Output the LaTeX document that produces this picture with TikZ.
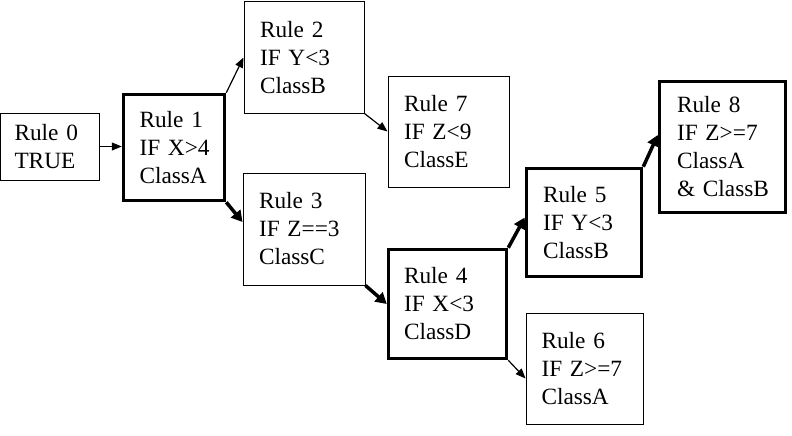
\documentclass[tikz,border=0pt]{standalone}
\usepackage{fontspec}
\setmainfont{Liberation Serif}
\usetikzlibrary{arrows.meta,positioning}
\tikzset{
  rbox/.style={draw, line width=1pt, rectangle, align=left, inner ysep=0pt,
    font=\fontsize{23.3}{28}\selectfont, anchor=center},
  rboxthick/.style={rbox, line width=3.5pt},
  thinarrow/.style={line width=1.2pt, -{Triangle[length=10pt,width=8pt]}},
  thickarrow/.style={line width=3.5pt, -{Triangle[length=11pt,width=12pt]}},
}
\begin{document}
\begin{tikzpicture}[x=1pt,y=-1pt]
\useasboundingbox (0,0) rectangle (792,436);
\node[rbox, inner xsep=14pt, text width=70.5pt, minimum height=67pt] (r0) at (49.75,146.5) {Rule~0\\TRUE};
\node[rboxthick, inner xsep=16pt, text width=69pt, minimum height=106pt] (r1) at (174,147.5) {Rule~1\\IF~X>4\\ClassA};
\node[rbox, inner xsep=16pt, text width=88pt, minimum height=111pt] (r2) at (304,57.5) {Rule~2\\IF~Y<3\\ClassB};
\node[rbox, inner xsep=16pt, text width=89pt, minimum height=111pt] (r7) at (448.5,131.5) {Rule~7\\IF~Z<9\\ClassE};
\node[rbox, inner xsep=16pt, text width=90pt, minimum height=112pt] (r3) at (304,229) {Rule~3\\IF~Z==3\\ClassC};
\node[rboxthick, inner xsep=15.5pt, text width=87pt, minimum height=109pt] (r4) at (447.5,304) {Rule~4\\IF~X<3\\ClassD};
\node[rboxthick, inner xsep=16.5pt, text width=82pt, minimum height=108pt] (r5) at (584,222.5) {Rule~5\\IF~Y<3\\ClassB};
\node[rbox, inner xsep=15.5pt, text width=86pt, minimum height=111pt] (r6) at (584.5,368.5) {Rule~6\\IF~Z>=7\\ClassA};
\node[rboxthick, inner xsep=17.5pt, text width=91pt, minimum height=131pt] (r8) at (722.5,147) {Rule~8\\IF~Z>=7\\ClassA\\\&~ClassB};

\draw[thinarrow] (r0.east) -- (r0.east -| r1.west);
\draw[thinarrow] (r1.north east) -- (r2.west);
\draw[thinarrow] (r2.south east) -- (r7.west);
\draw[thickarrow] (r1.south east) -- ([yshift=7pt]r3.west);
\draw[thickarrow] (r3.south east) -- (r4.west);
\draw[thickarrow] (r4.north east) -- ([yshift=5pt]r5.west);
\draw[thinarrow] (r4.south east) -- ([yshift=-10pt]r6.west);
\draw[thickarrow] (r5.north east) -- ([yshift=12pt]r8.west);
\end{tikzpicture}
\end{document}
